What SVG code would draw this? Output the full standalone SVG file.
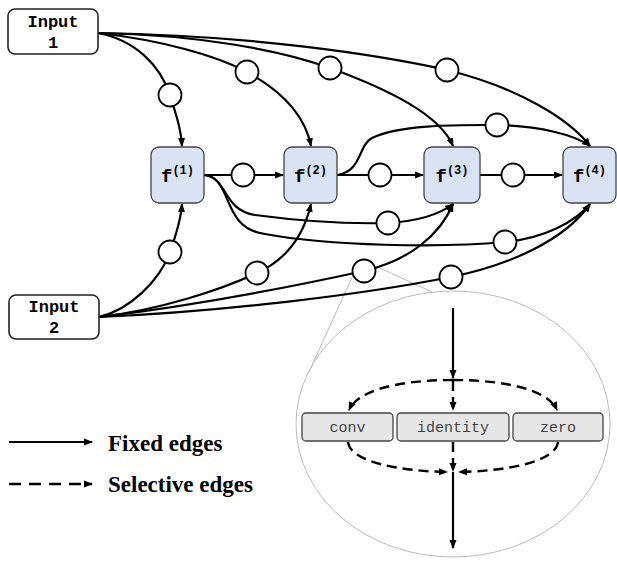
<svg xmlns="http://www.w3.org/2000/svg" width="617" height="567" viewBox="0 0 617 567">
<defs>
<marker id="ah" markerWidth="9" markerHeight="9" refX="8" refY="4.5" orient="auto" markerUnits="userSpaceOnUse">
<path d="M0,1 L9,4.5 L0,8 Z" fill="#000"/>
</marker>
<style>
.e{fill:none;stroke:#000;stroke-width:2.2}
.d{fill:none;stroke:#000;stroke-width:2.4;stroke-dasharray:10,6}
.dl{fill:none;stroke:#000;stroke-width:2.6;stroke-dasharray:12,8}
.c{fill:#fff;stroke:#000;stroke-width:1.8}
.inp{fill:#fff;stroke:#222;stroke-width:1.6}
.fn{fill:#dae3f3;stroke:#444;stroke-width:1.3}
.op{fill:#e6e6e6;stroke:#444;stroke-width:1.3}
.tin{font-family:"Liberation Mono","Courier New",monospace;font-weight:bold;font-size:17px;text-anchor:middle;fill:#000}
.tf{font-family:"Liberation Mono","Courier New",monospace;font-weight:bold;font-size:19px;text-anchor:middle;fill:#000}
.top{font-family:"Liberation Mono","Courier New",monospace;font-size:15px;text-anchor:middle;fill:#444}
.lg{font-family:"Liberation Serif","Times New Roman",serif;font-weight:bold;font-size:23px;fill:#000}
.lens{fill:none;stroke:#bbb;stroke-width:1}
</style>
</defs>
<rect width="617" height="567" fill="#fff"/>

<g id="lens">
<line class="lens" x1="353" y1="275" x2="309" y2="372"/>
<line class="lens" x1="380" y1="268" x2="432" y2="292"/>
<ellipse class="lens" cx="453" cy="424" rx="157" ry="133"/>
</g>

<g id="connectors">
<!-- Input 1 -->
<path class="e" d="M98,33 C135,40 160,65 170,95 C176,115 181,128 182,146" marker-end="url(#ah)"/>
<path class="e" d="M98,33 C160,40 215,55 247,72 C280,90 305,115 311,146" marker-end="url(#ah)"/>
<path class="e" d="M98,33 C200,35 280,50 330,68 C390,90 440,115 453,146" marker-end="url(#ah)"/>
<path class="e" d="M98,33 C250,35 380,55 447,70 C520,88 570,120 590,146" marker-end="url(#ah)"/>
<!-- Input 2 -->
<path class="e" d="M99,317 C130,310 160,280 170,252 C176,235 181,220 182,204" marker-end="url(#ah)"/>
<path class="e" d="M99,317 C160,310 220,290 257,273 C290,258 305,230 311,204" marker-end="url(#ah)"/>
<path class="e" d="M99,317 C200,305 300,285 364,271 C410,260 440,235 453,204" marker-end="url(#ah)"/>
<path class="e" d="M99,317 C220,312 360,295 451,277 C510,265 565,240 590,204" marker-end="url(#ah)"/>
<!-- horizontal -->
<path class="e" d="M204,175 L283,175" marker-end="url(#ah)"/>
<path class="e" d="M337,175 L423,175" marker-end="url(#ah)"/>
<path class="e" d="M480,175 L562,175" marker-end="url(#ah)"/>
<!-- skip -->
<path class="e" d="M337,175 C362,172 358,145 372,138 C400,124 460,125 497,125 C540,126 575,135 590,146" marker-end="url(#ah)"/>
<path class="e" d="M204,175 C228,177 222,210 255,215 C300,221 350,224 388,223 C420,221 440,214 453,204" marker-end="url(#ah)"/>
<path class="e" d="M204,175 C234,178 220,228 265,234 C330,246 440,248 505,242 C545,238 575,222 590,204" marker-end="url(#ah)"/>
</g>

<g id="circles">
<circle class="c" cx="170" cy="95" r="11.5"/>
<circle class="c" cx="247" cy="72" r="11.5"/>
<circle class="c" cx="330" cy="68" r="11.5"/>
<circle class="c" cx="447" cy="70" r="11.5"/>
<circle class="c" cx="243" cy="175" r="11.5"/>
<circle class="c" cx="380" cy="175" r="11.5"/>
<circle class="c" cx="513" cy="175" r="11.5"/>
<circle class="c" cx="497" cy="125" r="11.5"/>
<circle class="c" cx="388" cy="223" r="11.5"/>
<circle class="c" cx="505" cy="242" r="11.5"/>
<circle class="c" cx="170" cy="252" r="11.5"/>
<circle class="c" cx="257" cy="273" r="11.5"/>
<circle class="c" cx="364" cy="271" r="11.5"/>
<circle class="c" cx="451" cy="277" r="11.5"/>
</g>

<g id="input1">
<rect class="inp" x="8" y="9" width="90" height="45" rx="7"/>
<text class="tin" x="53" y="27">Input</text>
<text class="tin" x="53" y="48">1</text>
</g>
<g id="input2">
<rect class="inp" x="9" y="295" width="90" height="44" rx="7"/>
<text class="tin" x="54" y="312">Input</text>
<text class="tin" x="54" y="333">2</text>
</g>

<g id="f1">
<rect class="fn" x="151" y="147" width="53" height="56" rx="8"/>
<text class="tf" x="177.5" y="182">f<tspan font-size="12" dy="-8">(1)</tspan></text>
</g>
<g id="f2">
<rect class="fn" x="284" y="147" width="53" height="56" rx="8"/>
<text class="tf" x="310.5" y="182">f<tspan font-size="12" dy="-8">(2)</tspan></text>
</g>
<g id="f3">
<rect class="fn" x="424" y="147" width="56" height="56" rx="8"/>
<text class="tf" x="452" y="182">f<tspan font-size="12" dy="-8">(3)</tspan></text>
</g>
<g id="f4">
<rect class="fn" x="563" y="147" width="53" height="56" rx="8"/>
<text class="tf" x="589.5" y="182">f<tspan font-size="12" dy="-8">(4)</tspan></text>
</g>

<g id="zoom-connectors">
<path class="e" d="M453,308 L453,378" marker-end="url(#ah)"/>
<path class="d" d="M453,380 C400,380 358,390 349,410" marker-end="url(#ah)"/>
<path class="d" d="M453,380 C506,380 548,390 557,410" marker-end="url(#ah)"/>
<path class="d" d="M453,381 L453,410" marker-end="url(#ah)"/>
<path class="d" d="M453,442 L453,471" marker-end="url(#ah)"/>
<path class="d" d="M348,442 C350,462 400,471 447,472" marker-end="url(#ah)"/>
<path class="d" d="M558,442 C556,462 506,471 459,472" marker-end="url(#ah)"/>
<path class="e" d="M453,472 L453,548" marker-end="url(#ah)"/>
</g>

<g id="conv">
<rect class="op" x="302" y="413" width="91" height="28" rx="4"/>
<text class="top" x="347.5" y="432">conv</text>
</g>
<g id="identity">
<rect class="op" x="397" y="413" width="112" height="28" rx="4"/>
<text class="top" x="453" y="432">identity</text>
</g>
<g id="zero">
<rect class="op" x="513" y="413" width="90" height="28" rx="4"/>
<text class="top" x="558" y="432">zero</text>
</g>

<g id="legend">
<path class="e" d="M9,442 L92,442" marker-end="url(#ah)"/>
<text class="lg" x="108" y="451">Fixed edges</text>
<path class="dl" d="M9,484 L92,484" marker-end="url(#ah)"/>
<text class="lg" x="108" y="492">Selective edges</text>
</g>
</svg>
